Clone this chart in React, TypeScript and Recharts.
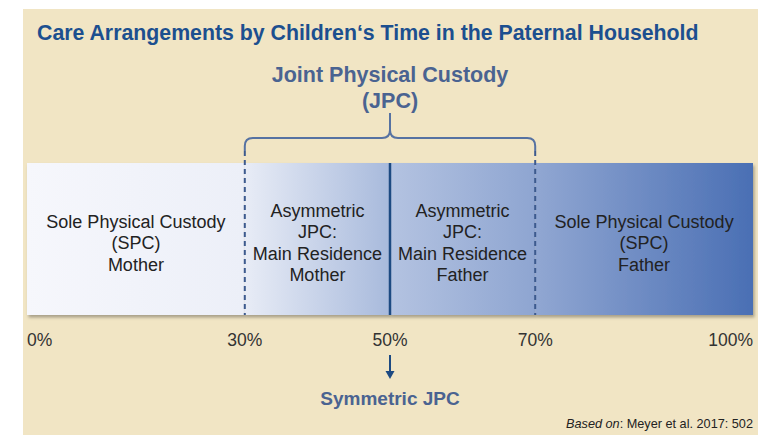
import { BarChart, Bar, XAxis, YAxis, ReferenceLine, ReferenceArea, LabelList, Customized } from 'recharts';

const categories = ['Time in paternal household'];
const segmentKeys = ['spcMother', 'jpcMother', 'jpcFather', 'spcFather'];
const segmentShares = [30, 20, 20, 30];
const segmentLabels = [
    ['Sole Physical Custody', '(SPC)', 'Mother'],
    ['Asymmetric', 'JPC:', 'Main Residence', 'Mother'],
    ['Asymmetric', 'JPC:', 'Main Residence', 'Father'],
    ['Sole Physical Custody', '(SPC)', 'Father'],
];
const segmentColors = [
    ['#f6f7fc', '#eceff8'],
    ['#e8ecf6', '#a8badc'],
    ['#b4c3e1', '#8ea5d1'],
    ['#91a7d2', '#4a6fb4'],
];
const tickValues = [0, 30, 50, 70, 100];
const dashedBoundaries = [30, 70];
const symmetricPoint = 50;
const jpcRange = [30, 70];

const title = 'Care Arrangements by Children\u2018s Time in the Paternal Household';
const jpcTitle = ['Joint Physical Custody', '(JPC)'];
const symmetricLabel = 'Symmetric JPC';

const data = categories.map((name) => {
    const row: Record<string, string | number> = { name };
    segmentKeys.forEach((k, i) => { row[k] = segmentShares[i]; });
    return row;
});

const FONT = '"Liberation Sans", Arial, sans-serif';
const accent = '#4a6391';

function SegmentLabel(props: any) {
    const { x, y, width, height, lines } = props;
    const cx = x + width / 2;
    const lh = 21.5;
    const top = y + height / 2 + 4 - ((lines.length - 1) * lh) / 2;
    return (
        <text x={cx} y={top} textAnchor="middle" fontFamily={FONT} fontSize={18} fill="#222">
            {lines.map((l: string, i: number) => (
                <tspan key={i} x={cx} dy={i === 0 ? 6 : lh}>{l}</tspan>
            ))}
        </text>
    );
}

function SegmentShape(props: any) {
    const { x, y, width, height, fill } = props;
    return <rect x={x} y={y} width={width} height={height} fill={fill} filter="url(#shadow)" />;
}

function PercentTick(props: any) {
    const { x, y, payload } = props;
    const v = payload.value;
    const anchor = v === 0 ? 'start' : v === 100 ? 'end' : 'middle';
    return (
        <text x={x} y={y} dy={23} textAnchor={anchor} fontFamily={FONT} fontSize={17.5} fill="#333">
            {`${v}%`}
        </text>
    );
}

function Brace(props: any) {
    const { x, y, width } = props;
    const xl = x, xr = x + width, xc = x + width / 2;
    const yb = y - 12, yh = y - 25, yp = y - 50, r = 8;
    const d = `M${xl},${yb} L${xl},${yh + r} Q${xl},${yh} ${xl + r},${yh} L${xc - r},${yh} Q${xc},${yh} ${xc},${yh - r} L${xc},${yp}
        M${xc},${yh - r} Q${xc},${yh} ${xc + r},${yh} L${xr - r},${yh} Q${xr},${yh} ${xr},${yh + r} L${xr},${yb}`;
    return (
        <g>
            <path d={d} fill="none" stroke="#5672a2" strokeWidth={2} />
            <text x={xc} textAnchor="middle" fontFamily={FONT} fontWeight="bold" fontSize={21.5} fill={accent}>
                <tspan x={xc} y={y - 81}>{jpcTitle[0]}</tspan>
                <tspan x={xc} y={y - 55}>{jpcTitle[1]}</tspan>
            </text>
        </g>
    );
}

function DashedBoundary(props: any) {
    const { x1, y1, x2, y2 } = props;
    const top = Math.min(y1, y2), bottom = Math.max(y1, y2);
    return <line x1={x1} y1={top - 12} x2={x2} y2={bottom} stroke="#3d5a8e" strokeWidth={2} strokeDasharray="5 4" />;
}

function SymmetricLine(props: any) {
    const { x1, y1, x2, y2 } = props;
    const top = Math.min(y1, y2), bottom = Math.max(y1, y2);
    const cx = x1;
    return (
        <g>
            <line x1={cx} y1={top} x2={x2} y2={bottom} stroke="#1d4a82" strokeWidth={2.5} />
            <line x1={cx} y1={bottom + 40} x2={cx} y2={bottom + 57} stroke="#1d4a82" strokeWidth={2} />
            <path d={`M${cx - 4.5},${bottom + 56} L${cx + 4.5},${bottom + 56} L${cx},${bottom + 64} Z`} fill="#1d4a82" />
            <text x={cx} y={bottom + 90} textAnchor="middle" fontFamily={FONT} fontWeight="bold" fontSize={19} fill={accent}>
                {symmetricLabel}
            </text>
        </g>
    );
}

function Texts() {
    return (
        <g>
            <text x={37} y={40} fontFamily={FONT} fontWeight="bold" fontSize={21.3} fill="#1c4f8f">{title}</text>
            <text x={753} y={428} textAnchor="end" fontFamily={FONT} fontSize={12.7} fill="#222">
                <tspan fontStyle="italic">Based on</tspan>: Meyer et al. 2017: 502
            </text>
        </g>
    );
}

export default function App() {
    return (
        <div style={{ position: 'absolute', left: 0, top: 0, width: 758, height: 435, background: '#fff' }}>
            <div style={{ position: 'absolute', left: 23, top: 9, right: 0, bottom: 0, background: '#f1e5c4' }} />
            <div style={{ position: 'absolute', left: 0, top: 0 }}>
                <BarChart
                    width={758}
                    height={435}
                    data={data}
                    layout="vertical"
                    barCategoryGap={0}
                    margin={{ top: 163, right: 5, bottom: 90, left: 27 }}
                >
                    <defs>
                        {segmentColors.map((c, i) => (
                            <linearGradient key={i} id={`seg${i}`} x1="0" y1="0" x2="1" y2="0">
                                <stop offset="0%" stopColor={c[0]} />
                                <stop offset="100%" stopColor={c[1]} />
                            </linearGradient>
                        ))}
                        <filter id="shadow" x="-5%" y="-10%" width="115%" height="130%">
                            <feDropShadow dx="1.5" dy="2.5" stdDeviation="1.5" floodColor="#000" floodOpacity="0.3" />
                        </filter>
                    </defs>
                    <XAxis
                        type="number"
                        domain={[0, 100]}
                        ticks={tickValues}
                        height={30}
                        axisLine={false}
                        tickLine={false}
                        tick={<PercentTick />}
                        interval={0}
                    />
                    <YAxis type="category" dataKey="name" hide />
                    {segmentKeys.map((k, i) => (
                        <Bar key={k} dataKey={k} stackId="a" fill={`url(#seg${i})`} shape={<SegmentShape />} isAnimationActive={false}>
                            <LabelList dataKey={k} content={(p: any) => <SegmentLabel {...p} lines={segmentLabels[i]} />} />
                        </Bar>
                    ))}
                    <ReferenceArea x1={jpcRange[0]} x2={jpcRange[1]} shape={<Brace />} />
                    {dashedBoundaries.map((v) => (
                        <ReferenceLine key={v} x={v} shape={<DashedBoundary />} />
                    ))}
                    <ReferenceLine x={symmetricPoint} shape={<SymmetricLine />} />
                    <Customized component={<Texts />} />
                </BarChart>
            </div>
        </div>
    );
}
